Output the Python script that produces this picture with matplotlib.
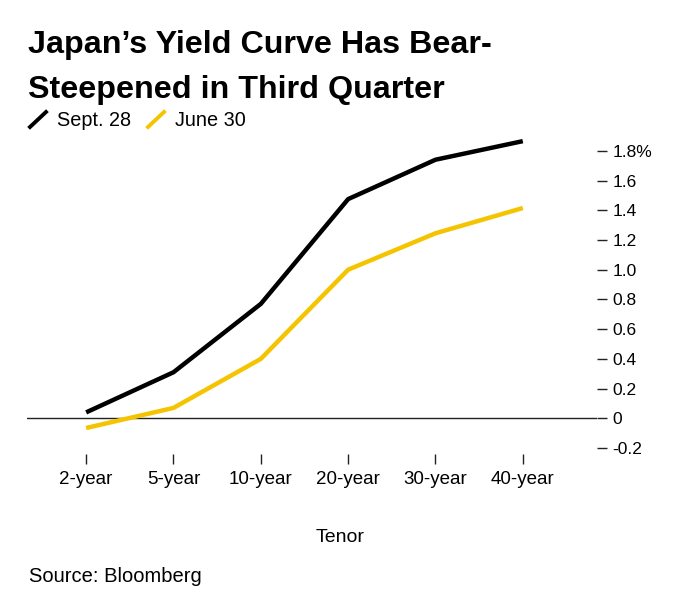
import matplotlib.pyplot as plt
from matplotlib.lines import Line2D

tenors = ["2-year", "5-year", "10-year", "20-year", "30-year", "40-year"]
sept_28 = [0.04, 0.31, 0.77, 1.475, 1.74, 1.865]
june_30 = [-0.065, 0.07, 0.40, 1.00, 1.245, 1.415]
y_ticks = [-0.2, 0, 0.2, 0.4, 0.6, 0.8, 1.0, 1.2, 1.4, 1.6, 1.8]
y_labels = ["-0.2", "0", "0.2", "0.4", "0.6", "0.8", "1.0", "1.2", "1.4", "1.6", "1.8%"]

BLACK = "#000000"
YELLOW = "#F5C400"

plt.rcParams["font.family"] = ["Liberation Sans", "DejaVu Sans"]

fig = plt.figure(figsize=(6.8, 6.14), dpi=100)
ax = fig.add_axes([0.04, 0.2606, 0.838, 0.518])

x = list(range(len(tenors)))
ax.plot(x, june_30, color=YELLOW, lw=3.2, solid_capstyle="butt", zorder=3)
ax.plot(x, sept_28, color=BLACK, lw=3.2, solid_capstyle="butt", zorder=4)
ax.axhline(0, color="#222222", lw=1.0, zorder=2)

ax.set_xlim(-0.675, 5.85)
ax.set_ylim(-0.24, 1.9)

ax.set_xticks(x)
ax.set_xticklabels(tenors)
ax.set_yticks(y_ticks)
ax.set_yticklabels(y_labels)
ax.yaxis.tick_right()
ax.tick_params(axis="y", direction="out", length=7, width=1.0, pad=4,
               labelsize=12.5, color="#222222")
ax.tick_params(axis="x", direction="out", length=7, width=1.0, pad=5,
               labelsize=13.5, color="#222222")
for s in ax.spines.values():
    s.set_visible(False)

fig.text(0.5, 1 - 538 / 614, "Tenor", fontsize=14, ha="center", va="center")

fig.text(0.041, 1 - 45 / 614, "Japan\u2019s Yield Curve Has Bear-", fontsize=23.2,
         fontweight="bold", va="center")
fig.text(0.041, 1 - 90 / 614, "Steepened in Third Quarter", fontsize=23.2,
         fontweight="bold", va="center")

# legend
for x0, col, label in [(30, BLACK, "Sept. 28"), (148, YELLOW, "June 30")]:
    fig.add_artist(Line2D([x0 / 680, (x0 + 16) / 680],
                          [1 - 127 / 614, 1 - 112 / 614], color=col,
                          lw=2.8, transform=fig.transFigure))
    fig.text((x0 + 27) / 680, 1 - 120 / 614, label, fontsize=14.3, va="center")

fig.text(0.043, 1 - 577 / 614, "Source: Bloomberg", fontsize=14.5, va="center")

fig.savefig("out.png", dpi=100)
